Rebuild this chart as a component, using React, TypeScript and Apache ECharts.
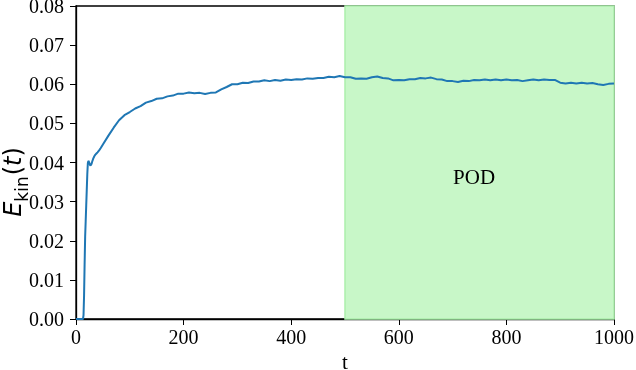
import React, { useEffect, useRef } from "react";
import * as echarts from "echarts";

const times: number[] = [
  0, 10, 13, 14, 15, 16, 17, 18, 19, 20, 21, 22, 23, 24, 25, 26, 27, 28, 29, 30, 32, 34, 36, 38, 40, 43, 46, 50,
  60, 70, 80, 90, 100, 110, 120, 130, 140, 150, 160, 170, 180, 190, 200, 210, 220, 230, 240, 250, 260, 270, 280,
  290, 300, 310, 320, 330, 340, 350, 360, 370, 380, 390, 400, 410, 420, 430, 440, 450, 460, 470, 480, 490, 500,
  510, 520, 530, 540, 550, 560, 570, 580, 590, 600, 610, 620, 630, 640, 650, 660, 670, 680, 690, 700, 710, 720,
  730, 740, 750, 760, 770, 780, 790, 800, 810, 820, 830, 840, 850, 860, 870, 880, 890, 900, 910, 920, 930, 940,
  950, 960, 970, 980, 990, 1000,
];

const ekin: number[] = [
  0, 0, 0, 0.001, 0.006, 0.014, 0.021, 0.025, 0.029, 0.033, 0.037, 0.0398, 0.0404, 0.0402, 0.0398, 0.0394, 0.0392,
  0.0393, 0.0397, 0.0402, 0.041, 0.0416, 0.042, 0.0423, 0.0426, 0.0431, 0.0437, 0.0446,
  0.0468, 0.0489, 0.0508, 0.0521, 0.0529, 0.0538, 0.0544, 0.0553, 0.0557, 0.0563, 0.0564, 0.0569, 0.0571, 0.0576,
  0.0576, 0.0579, 0.0577, 0.0578, 0.0575, 0.0578, 0.0579, 0.0587, 0.0593, 0.06, 0.06, 0.0604, 0.0603, 0.0607,
  0.0607, 0.061, 0.0608, 0.0611, 0.0609, 0.0612, 0.0611, 0.0613, 0.0612, 0.0615, 0.0614, 0.0616, 0.0616, 0.0619,
  0.0618, 0.0621, 0.0618, 0.0618, 0.0614, 0.0615, 0.0614, 0.0618, 0.062, 0.0616, 0.0615, 0.061, 0.0611, 0.061,
  0.0613, 0.0613, 0.0616, 0.0615, 0.0617, 0.0613, 0.0612, 0.0608, 0.0608, 0.0606, 0.0609, 0.0608, 0.0611, 0.061,
  0.0612, 0.061, 0.0612, 0.061, 0.0612, 0.061, 0.0611, 0.0608, 0.061, 0.0612, 0.061, 0.0612, 0.0611, 0.0611,
  0.0604, 0.0602, 0.0604, 0.0602, 0.0604, 0.0602, 0.0603, 0.06, 0.0598, 0.0601, 0.0602,
];

const podStart = 500;
const podEnd = 1000;
const podLabel = "POD";
const podLabelPos: [number, number] = [740, 0.0363];

export default function App() {
  const ref = useRef<HTMLDivElement>(null);
  useEffect(() => {
    if (!ref.current) return;
    const chart = echarts.init(ref.current, null, { renderer: "svg" });
    const serif = "Liberation Serif";
    const data = times.map((t, i) => [t, ekin[i]]);
    chart.setOption({
      animation: false,
      grid: {
        left: 76,
        right: 22,
        top: 6,
        bottom: 51,
        outerBoundsMode: "none",
        containLabel: false,
        show: true,
        borderColor: "#000",
        borderWidth: 1.3,
        backgroundColor: "transparent",
      },
      xAxis: {
        type: "value",
        min: 0,
        max: 1000,
        interval: 200,
        name: "t",
        nameLocation: "middle",
        nameGap: 27,
        nameTextStyle: { fontFamily: serif, fontSize: 21, color: "#000", lineHeight: 20 },
        axisLine: { show: true, lineStyle: { color: "#000", width: 1.3 } },
        axisTick: { show: true, length: 6, lineStyle: { color: "#000", width: 1 } },
        axisLabel: { fontFamily: serif, fontSize: 20, color: "#000", margin: 8, formatter: (v: number) => String(v) },
        splitLine: { show: false },
      },
      yAxis: {
        type: "value",
        min: 0,
        max: 0.08,
        interval: 0.01,
        axisLine: { show: true, lineStyle: { color: "#000", width: 1.3 } },
        axisTick: { show: true, length: 6, lineStyle: { color: "#000", width: 1 } },
        axisLabel: {
          fontFamily: serif,
          fontSize: 20,
          lineHeight: 12,
          color: "#000",
          margin: 12,
          formatter: (v: number) => v.toFixed(2),
        },
        splitLine: { show: false },
      },
      graphic: [
        {
          type: "text",
          x: 11,
          y: 182,
          rotation: Math.PI / 2,
          style: {
            text: "{e|E}{s|kin}{p|(}{e|t}{p|)}",
            align: "center",
            verticalAlign: "middle",
            rich: {
              e: { fontFamily: "DejaVu Sans", fontStyle: "italic", fontSize: 24, lineHeight: 28, verticalAlign: "bottom", fill: "#000" },
              p: { fontFamily: "DejaVu Sans", fontSize: 24, lineHeight: 28, verticalAlign: "bottom", fill: "#000" },
              s: { fontFamily: "DejaVu Sans", fontSize: 17, lineHeight: 28, verticalAlign: "bottom", padding: [0, 1, -5, 0], fill: "#000" },
            },
          },
        },
      ],
      series: [
        {
          type: "line",
          data,
          showSymbol: false,
          lineStyle: { color: "#1f77b4", width: 2 },
          z: 3,
          markArea: {
            silent: true,
            itemStyle: { color: "#c8f7c8", borderColor: "#acf0ac", borderWidth: 1.5 },
            data: [[{ xAxis: podStart }, { xAxis: podEnd }]],
          },
          markPoint: {
            silent: true,
            symbol: "circle",
            symbolSize: 2,
            itemStyle: { color: "rgba(0,0,0,0)" },
            label: { show: true, position: "inside", formatter: podLabel, fontFamily: serif, fontSize: 21, color: "#000" },
            data: [{ coord: podLabelPos }],
          },
        },
      ],
    });
    return () => chart.dispose();
  }, []);
  return <div ref={ref} style={{ position: "fixed", left: 0, top: 0, width: 636, height: 370 }} />;
}
